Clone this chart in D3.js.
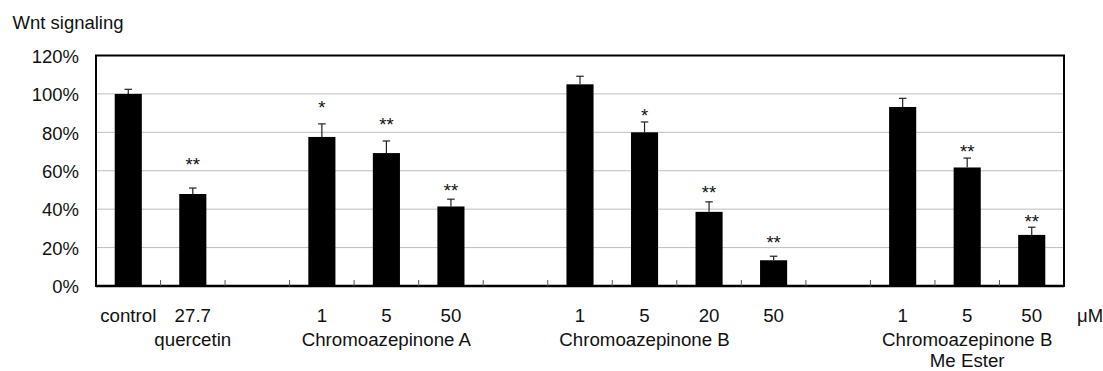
<!DOCTYPE html>
<html>
<head>
<meta charset="utf-8">
<script src="https://cdn.jsdelivr.net/npm/d3@7"></script>
<style>
  html, body { margin: 0; padding: 0; background: #fff; }
  svg { display: block; font-family: "Liberation Sans", Arial, sans-serif; }
</style>
</head>
<body>
<div id="chart"></div>
<script>
// one slot per category, empty slots are the gaps between compounds
const slots = ["s0", "s1", "s2", "s3", "s4", "s5", "s6", "s7", "s8", "s9", "s10", "s11", "s12", "s13", "s14"];
const doses = ["control", "27.7", "", "1", "5", "50", "", "1", "5", "20", "50", "", "1", "5", "50"];
const compounds = ["", "quercetin", "", "", "Chromoazepinone A", "", "", "", "Chromoazepinone B", "", "", "", "", "Chromoazepinone B|Me Ester", ""];
const values = [100, 47.9, null, 77.6, 69.2, 41.4, null, 105, 80, 38.6, 13.4, null, 93.2, 61.7, 26.6];
const errors = [2.4, 3.1, null, 6.8, 6.3, 3.8, null, 4.2, 5.4, 5.2, 2.1, null, 4.5, 4.9, 4.0];
const stars = ["", "**", "", "*", "**", "**", "", "", "*", "**", "**", "", "", "**", "**"];
const starLevels = [null, 65.2, null, 94.8, 86.1, 51.8, null, null, 90.8, 50.8, 24.9, null, null, 71.9, 35.6];
const yTicks = [0, 20, 40, 60, 80, 100, 120];

const width = 1103, height = 371;
const margin = { top: 55.5, right: 39, bottom: 85, left: 96 };
const plotW = width - margin.left - margin.right;
const plotH = height - margin.top - margin.bottom;

const svg = d3.select('#chart').append('svg')
  .attr('width', width)
  .attr('height', height);

const x = d3.scaleBand().domain(slots).range([0, plotW]).paddingInner(0.58).paddingOuter(0.29);
const y = d3.scaleLinear().domain([0, 120]).range([plotH, 0]);

const g = svg.append('g').attr('transform', `translate(${margin.left},${margin.top})`);

// gridlines
g.selectAll('line.grid')
  .data(yTicks.filter(d => d > 0 && d < 120))
  .enter().append('line')
  .attr('class', 'grid')
  .attr('x1', 0).attr('x2', plotW)
  .attr('y1', d => y(d)).attr('y2', d => y(d))
  .attr('stroke', '#bdbdbd')
  .attr('stroke-width', 1);

// y axis labels
const yAxis = g.append('g')
  .call(d3.axisLeft(y).tickValues(yTicks).tickSize(0).tickPadding(17).tickFormat(d => d + '%'));
yAxis.select('.domain').remove();
yAxis.selectAll('text')
  .attr('font-size', 18.5)
  .attr('font-family', '"Liberation Sans", Arial, sans-serif')
  .attr('fill', '#111')
  .attr('dy', '0.36em');

// bars
const rows = slots.map((s, i) => ({ key: s, v: values[i], e: errors[i], star: stars[i], lvl: starLevels[i] }))
  .filter(d => d.v != null);

g.selectAll('rect.bar')
  .data(rows)
  .enter().append('rect')
  .attr('class', 'bar')
  .attr('x', d => x(d.key))
  .attr('width', x.bandwidth())
  .attr('y', d => y(d.v))
  .attr('height', d => y(0) - y(d.v))
  .attr('fill', '#000');

// error bars (upper only)
const capW = 7.5;
const eb = g.selectAll('g.err').data(rows).enter().append('g').attr('class', 'err');
eb.append('line')
  .attr('x1', d => x(d.key) + x.bandwidth() / 2)
  .attr('x2', d => x(d.key) + x.bandwidth() / 2)
  .attr('y1', d => y(d.v))
  .attr('y2', d => y(d.v + d.e))
  .attr('stroke', '#222').attr('stroke-width', 1.2);
eb.append('line')
  .attr('x1', d => x(d.key) + x.bandwidth() / 2 - capW / 2)
  .attr('x2', d => x(d.key) + x.bandwidth() / 2 + capW / 2)
  .attr('y1', d => y(d.v + d.e))
  .attr('y2', d => y(d.v + d.e))
  .attr('stroke', '#222').attr('stroke-width', 1.2);

// significance stars
g.selectAll('text.star')
  .data(rows.filter(d => d.star))
  .enter().append('text')
  .attr('class', 'star')
  .attr('x', d => x(d.key) + x.bandwidth() / 2)
  .attr('y', d => y(d.lvl) + 10.5)
  .attr('text-anchor', 'middle')
  .attr('font-size', 18.5)
  .attr('fill', '#111')
  .text(d => d.star);

// frame
g.append('rect')
  .attr('x', 0).attr('y', 0)
  .attr('width', plotW).attr('height', plotH)
  .attr('fill', 'none')
  .attr('stroke', '#000')
  .attr('stroke-width', 2);
g.append('line')
  .attr('x1', 0).attr('x2', plotW)
  .attr('y1', plotH).attr('y2', plotH)
  .attr('stroke', '#000').attr('stroke-width', 2.5);

// category boundary ticks, pointing up from the axis
const half = (x.step() - x.bandwidth()) / 2;
g.selectAll('line.tick-b')
  .data(slots.slice(1))
  .enter().append('line')
  .attr('class', 'tick-b')
  .attr('x1', d => x(d) - half).attr('x2', d => x(d) - half)
  .attr('y1', plotH).attr('y2', plotH - 6)
  .attr('stroke', '#555').attr('stroke-width', 1);

// category labels
const labels = g.append('g').attr('font-size', 18.7).attr('fill', '#111').attr('text-anchor', 'middle');
slots.forEach((s, i) => {
  const cx = x(s) + x.bandwidth() / 2;
  if (doses[i]) {
    labels.append('text').attr('x', cx).attr('y', plotH + 35.7).text(doses[i]);
  }
  if (compounds[i]) {
    compounds[i].split('|').forEach((line, j) => {
      labels.append('text').attr('x', cx).attr('y', plotH + 59.5 + j * 21).text(line);
    });
  }
});

g.append('text')
  .attr('x', plotW + 13)
  .attr('y', plotH + 35.7)
  .attr('font-size', 18.5)
  .attr('fill', '#111')
  .text('μM');

// axis title
svg.append('text')
  .attr('x', 12.5)
  .attr('y', 29.3)
  .attr('font-size', 18.5)
  .attr('fill', '#111')
  .text('Wnt signaling');
</script>
</body>
</html>
